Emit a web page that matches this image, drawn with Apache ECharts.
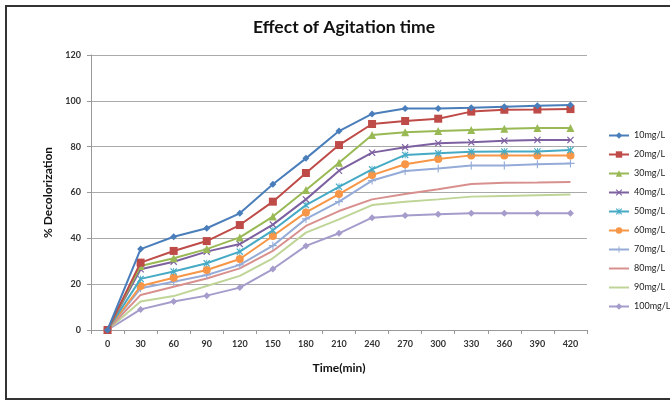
<!DOCTYPE html>
<html>
<head>
<meta charset="utf-8">
<script src="https://cdn.jsdelivr.net/npm/echarts@6/dist/echarts.min.js"></script>
<style>html,body{margin:0;padding:0;background:#fff;}#c{width:670px;height:401px;}</style>
</head>
<body>
<div id="c"></div>
<script>
const categories = ['0','30','60','90','120','150','180','210','240','270','300','330','360','390','420'];
const seriesNames = ['10mg/L','20mg/L','30mg/L','40mg/L','50mg/L','60mg/L','70mg/L','80mg/L','90mg/L','100mg/L'];
const s10  = [0, 35.3, 40.7, 44.4, 50.9, 63.6, 74.9, 86.8, 94.3, 96.7, 96.7, 97.0, 97.4, 97.9, 98.2];
const s20  = [0, 29.4, 34.5, 38.8, 45.8, 56.0, 68.5, 80.7, 89.9, 91.2, 92.2, 95.3, 96.1, 96.2, 96.4];
const s30  = [0, 27.9, 31.3, 35.3, 40.4, 49.5, 61.1, 73.0, 85.1, 86.3, 86.8, 87.3, 87.8, 88.1, 88.1];
const s40  = [0, 26.5, 29.8, 34.2, 37.5, 46.0, 57.0, 69.5, 77.4, 79.7, 81.5, 81.9, 82.6, 82.9, 82.9];
const s50  = [0, 22.3, 25.5, 29.1, 34.2, 43.5, 54.5, 62.5, 70.1, 76.4, 77.1, 77.8, 77.9, 77.9, 78.5];
const s60  = [0, 19.2, 22.8, 26.2, 31.0, 41.0, 51.3, 59.3, 67.6, 72.3, 74.6, 76.2, 76.2, 76.2, 76.2];
const s70  = [0, 18.2, 21.1, 24.0, 28.4, 36.8, 48.5, 56.0, 65.2, 69.4, 70.5, 71.8, 71.8, 72.3, 72.7];
const s80  = [0, 15.3, 18.9, 22.5, 26.9, 34.5, 45.4, 51.9, 57.0, 59.3, 61.4, 63.7, 64.3, 64.4, 64.6];
const s90  = [0, 12.4, 14.8, 19.2, 23.6, 31.3, 42.5, 48.3, 54.5, 56.0, 57.0, 58.2, 58.5, 58.8, 59.1];
const s100 = [0,  9.0, 12.4, 15.0, 18.5, 26.6, 36.7, 42.2, 49.0, 50.0, 50.5, 50.9, 50.9, 50.9, 50.9];
const yTicks = [0, 20, 40, 60, 80, 100, 120];

const colors = ['#4A7EBB','#BE4B48','#98B954','#7D60A0','#46AAC5','#F79646','#95ABD8','#D8908E','#BFD597','#A59CCB'];
const X = 'path://M0,1.2L1.2,0L5,3.8L8.8,0L10,1.2L6.2,5L10,8.8L8.8,10L5,6.2L1.2,10L0,8.8L3.8,5Z';
const STAR = 'path://M0,1.2L1.2,0L5,3.8L8.8,0L10,1.2L6.2,5L10,8.8L8.8,10L5,6.2L1.2,10L0,8.8L3.8,5Z M4.4,0H5.6V10H4.4Z';
const PLUS = 'path://M4.3,0H5.7V4.3H10V5.7H5.7V10H4.3V5.7H0V4.3H4.3Z';
const symbols = [['diamond',7],['rect',8],['triangle',8],[X,7],[STAR,7],['circle',8],[PLUS,8],['none',0],['none',0],['diamond',7]];
const allData = [s10,s20,s30,s40,s50,s60,s70,s80,s90,s100];

const font = 'Lato, "Open Sans", sans-serif';
const series = seriesNames.map((n,i)=>({
  name:n, type:'line', data:allData[i],
  symbol:symbols[i][0], symbolSize:symbols[i][1], showSymbol: symbols[i][0] !== 'none',
  lineStyle:{width:2,color:colors[i]},
  itemStyle:{color:colors[i]},
  z: 20 - i,
  animation:false
}));
const legendData = seriesNames.map((n,i)=> symbols[i][0] === 'none' ? {name:n, itemStyle:{opacity:0}} : {name:n});

const chart = echarts.init(document.getElementById('c'), null, {renderer:'canvas'});
chart.setOption({
  animation:false,
  color:colors,
  title:{text:'Effect of Agitation time', left:339, textAlign:'center', top:13,
    textStyle:{fontFamily:font, fontWeight:'bold', fontSize:17.5, color:'#111'}},
  grid:{left:91, right:83, top:55, bottom:71, containLabel:false},
  legend:{orient:'vertical', left:603, top:126, itemWidth:20, itemHeight:8, itemGap:10,
    textStyle:{fontFamily:font, fontSize:9, color:'#222'},
    data:legendData},
  xAxis:{type:'category', data:categories, boundaryGap:true,
    name:'Time(min)', nameLocation:'middle', nameGap:32,
    nameTextStyle:{fontFamily:font, fontSize:12, fontWeight:'bold', color:'#111'},
    axisLine:{lineStyle:{color:'#999'}}, axisTick:{show:true, length:4, lineStyle:{color:'#999'}},
    axisLabel:{fontFamily:font, fontSize:9, fontWeight:'bold', color:'#333', margin:10}},
  yAxis:{type:'value', min:0, max:120, interval:20,
    name:'% Decolorization', nameLocation:'middle', nameGap:33,
    nameTextStyle:{fontFamily:font, fontSize:12, fontWeight:'bold', color:'#111'},
    axisLine:{show:true, lineStyle:{color:'#999'}}, axisTick:{show:true, length:4, lineStyle:{color:'#999'}},
    splitLine:{lineStyle:{color:'#aaa'}},
    axisLabel:{fontFamily:font, fontSize:9, fontWeight:'bold', color:'#333', margin:10,
      formatter:v=> yTicks.includes(v) ? String(v) : ''}},
  graphic:[{type:'rect', shape:{x:6, y:6, width:670, height:393},
    style:{fill:'none', stroke:'#333', lineWidth:2}, silent:true, z:100}],
  series:series
});
</script>
</body>
</html>
